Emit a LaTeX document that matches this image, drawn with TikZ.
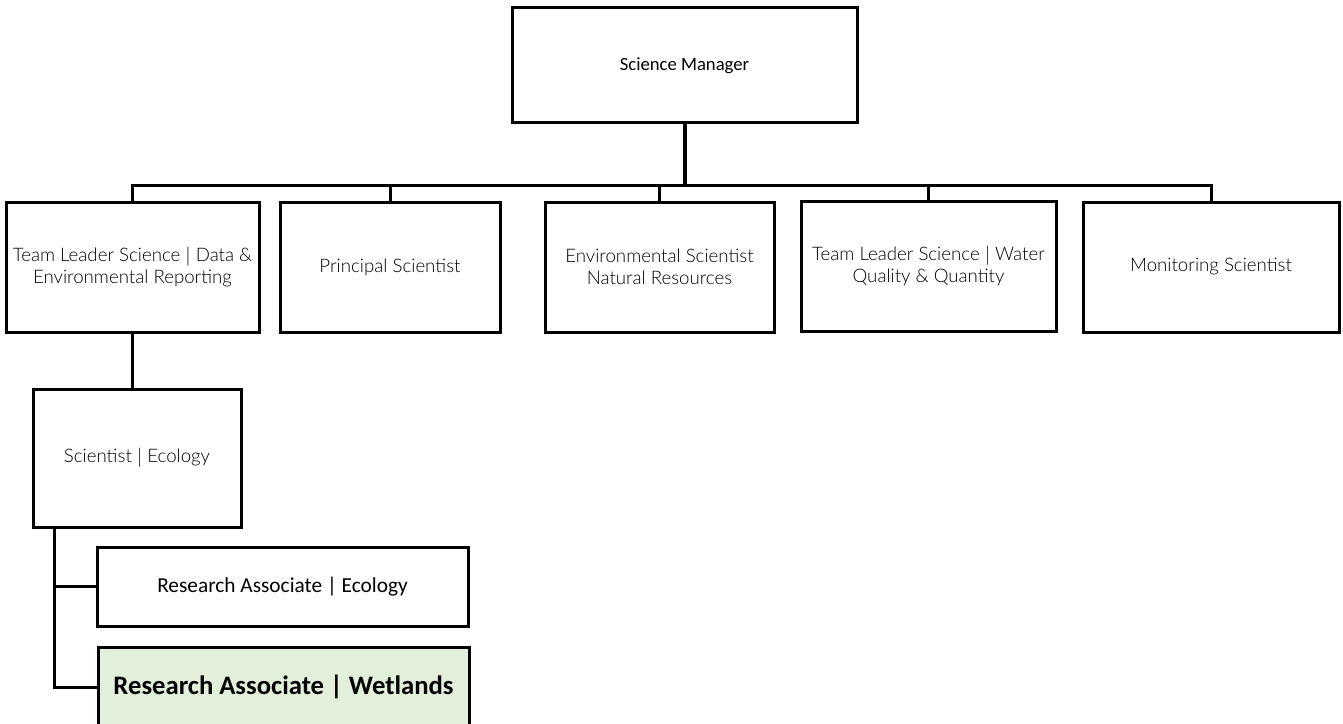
\documentclass[tikz,border=0pt]{standalone}
\usepackage{fontspec}
\setmainfont{Carlito}
\newfontfamily\thinfont{Lato Light}
\usetikzlibrary{positioning}

\begin{document}
\begin{tikzpicture}[x=0.75pt,y=0.75pt,yscale=-1,xscale=1,
  box/.style={draw, line width=2.25pt, align=center, inner sep=1pt},
  thinbox/.style={box, font=\thinfont\fontsize{14}{16.5}\selectfont},
  link/.style={line width=2.25pt}]
\useasboundingbox (0,0) rectangle (1343,724);

% Top
\node [box, minimum width=258.75pt, minimum height=86.25pt, font=\fontsize{14}{16}\selectfont] (mgr) at (684.5,65.5) {Science Manager};

% Team row
\node [thinbox, minimum width=189.75pt, minimum height=97.5pt] (t1) at (132.5,267) {Team Leader Science $|$ Data \&\\Environmental Reporting};
\node [thinbox, minimum width=165pt, minimum height=97.5pt] (t2) at (390,267) {Principal Scientist};
\node [thinbox, minimum width=171.75pt, minimum height=97.5pt] (t3) at (659.5,267) {Environmental Scientist\\Natural Resources};
\node [thinbox, minimum width=191.25pt, minimum height=97.5pt] (t4) at (928.5,266) {Team Leader Science $|$ Water\\Quality \& Quantity};
\node [thinbox, minimum width=192pt, minimum height=97.5pt] (t5) at (1211,267) {Monitoring Scientist};

% Ecology
\node [thinbox, minimum width=156pt, minimum height=103.5pt] (eco) at (137,458) {Scientist $|$ Ecology};
\node [box, minimum width=278.25pt, minimum height=59.25pt, font=\fontsize{16}{18}\selectfont] (ra1) at (282.5,586.5) {Research Associate | Ecology};
\node [box, minimum width=278.25pt, minimum height=59.25pt, fill={rgb, 255:red, 226; green, 239; blue, 218}, font=\bfseries\fontsize{20}{22}\selectfont] (ra2) at (283.5,687) {Research Associate | Wetlands};

% Connectors
\coordinate (bus) at (684.5,185);
\draw [link, line width=3pt] (mgr.south) -- (bus);
\draw [link] (t1.north) |- (bus) -| (t5.north);
\foreach \t in {t2,t3,t4} {\draw [link] (\t.north) -- (\t.north |- bus);}
\draw [link] (t1.south) -- (t1.south |- eco.north);
\coordinate (spine) at (54,527);
\draw [link] (spine) |- (ra1.west);
\draw [link] (spine) |- (ra2.west);

\end{tikzpicture}
\end{document}
